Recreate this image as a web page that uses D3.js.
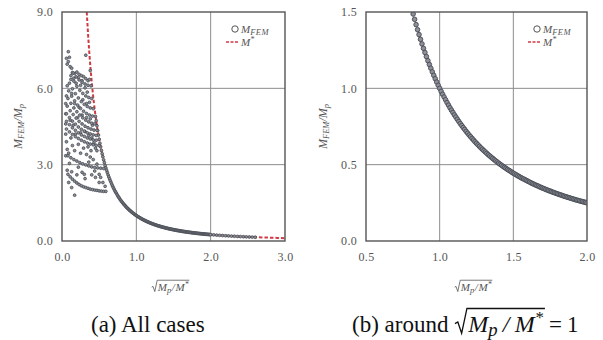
<!DOCTYPE html>
<html>
<head>
<meta charset="utf-8">
<script src="https://cdn.jsdelivr.net/npm/d3@7"></script>
<style>
body { margin: 0; background: #fff; }
svg { display: block; }
svg text { font-family: "Liberation Serif", "DejaVu Serif", "Noto Serif", "Times New Roman", serif; }
.tick text { font-size: 12px; fill: #555; letter-spacing: 0.3px; }
</style>
</head>
<body>
<div id="chart"></div>
<script>
// FEM results, main band (x = sqrt(Mp/M*), y = M_FEM/Mp)
const femBand = [
  [0.46,4.73],[0.47,4.53],[0.48,4.34],[0.49,4.16],[0.50,4.00],[0.51,3.84],[0.52,3.70],[0.53,3.56],[0.54,3.43],[0.55,3.31],
  [0.56,3.19],[0.57,3.08],[0.58,2.97],[0.59,2.87],[0.60,2.78],[0.61,2.69],[0.62,2.60],[0.63,2.52],[0.64,2.44],[0.65,2.37],
  [0.66,2.30],[0.67,2.23],[0.68,2.16],[0.69,2.10],[0.70,2.04],[0.71,1.98],[0.72,1.93],[0.73,1.88],[0.74,1.83],[0.75,1.78],
  [0.76,1.73],[0.77,1.69],[0.78,1.64],[0.79,1.60],
  [0.80,1.563],[0.81,1.524],[0.82,1.487],[0.83,1.452],[0.84,1.417],[0.85,1.384],[0.86,1.352],[0.87,1.321],[0.88,1.291],[0.89,1.262],
  [0.90,1.235],[0.91,1.208],[0.92,1.181],[0.93,1.156],[0.94,1.132],[0.95,1.108],[0.96,1.085],[0.97,1.063],[0.98,1.041],[0.99,1.020],
  [1.00,1.000],[1.01,0.980],[1.02,0.961],[1.03,0.943],[1.04,0.925],[1.05,0.907],[1.06,0.890],[1.07,0.873],[1.08,0.857],[1.09,0.842],
  [1.10,0.826],[1.11,0.812],[1.12,0.797],[1.13,0.783],[1.14,0.769],[1.15,0.756],[1.16,0.743],[1.17,0.731],[1.18,0.718],[1.19,0.706],
  [1.20,0.694],[1.21,0.683],[1.22,0.672],[1.23,0.661],[1.24,0.650],[1.25,0.640],[1.26,0.630],[1.27,0.620],[1.28,0.610],[1.29,0.601],
  [1.30,0.592],[1.31,0.583],[1.32,0.574],[1.33,0.565],[1.34,0.557],[1.35,0.549],[1.36,0.541],[1.37,0.533],[1.38,0.525],[1.39,0.518],
  [1.40,0.510],[1.41,0.503],[1.42,0.496],[1.43,0.489],[1.44,0.482],[1.45,0.476],[1.46,0.469],[1.47,0.463],[1.48,0.457],[1.49,0.450],
  [1.50,0.444],[1.51,0.439],[1.52,0.433],[1.53,0.427],[1.54,0.422],[1.55,0.416],[1.56,0.411],[1.57,0.406],[1.58,0.401],[1.59,0.396],
  [1.60,0.391],[1.61,0.386],[1.62,0.381],[1.63,0.376],[1.64,0.372],[1.65,0.367],[1.66,0.363],[1.67,0.359],[1.68,0.354],[1.69,0.350],
  [1.70,0.346],[1.71,0.342],[1.72,0.338],[1.73,0.334],[1.74,0.330],[1.75,0.327],[1.76,0.323],[1.77,0.319],[1.78,0.316],[1.79,0.312],
  [1.80,0.309],[1.81,0.305],[1.82,0.302],[1.83,0.299],[1.84,0.295],[1.85,0.292],[1.86,0.289],[1.87,0.286],[1.88,0.283],[1.89,0.280],
  [1.90,0.277],[1.91,0.274],[1.92,0.271],[1.93,0.268],[1.94,0.266],[1.95,0.263],[1.96,0.260],[1.97,0.258],[1.98,0.255],[1.99,0.253],
  [2.00,0.250],[2.04,0.240],[2.08,0.231],[2.12,0.222],[2.16,0.214],[2.20,0.207],[2.24,0.199],[2.28,0.192],[2.32,0.186],[2.36,0.180],
  [2.40,0.174],[2.44,0.168],[2.48,0.163],[2.52,0.157],[2.56,0.153],[2.60,0.148]
];

// FEM results, the curved streaks at small sqrt(Mp/M*)
const femArcs = [
  [[0.06,4.40],[0.10,4.29],[0.14,4.19],[0.18,4.10],[0.22,4.03],[0.26,3.96],[0.30,3.90],[0.34,3.85],[0.38,3.81],[0.42,3.78],[0.46,3.76],[0.50,3.75]],
  [[0.06,4.70],[0.10,4.57],[0.14,4.45],[0.18,4.35],[0.22,4.25],[0.26,4.17],[0.30,4.11],[0.34,4.05],[0.38,4.01],[0.42,3.97],[0.46,3.96]],
  [[0.06,5.00],[0.10,4.85],[0.14,4.71],[0.18,4.59],[0.22,4.48],[0.26,4.39],[0.30,4.32],[0.34,4.25],[0.38,4.21],[0.42,4.17],[0.46,4.15]],
  [[0.07,5.30],[0.11,5.12],[0.15,4.97],[0.19,4.83],[0.23,4.70],[0.27,4.60],[0.31,4.51],[0.35,4.45],[0.39,4.40],[0.43,4.36],[0.47,4.35]],
  [[0.08,5.60],[0.12,5.41],[0.16,5.23],[0.20,5.08],[0.24,4.95],[0.28,4.84],[0.32,4.75],[0.36,4.68],[0.40,4.63],[0.44,4.61]],
  [[0.09,5.90],[0.13,5.69],[0.17,5.51],[0.21,5.34],[0.25,5.21],[0.29,5.10],[0.33,5.01],[0.37,4.95],[0.41,4.91],[0.45,4.90]],
  [[0.10,6.20],[0.14,5.98],[0.18,5.79],[0.22,5.62],[0.26,5.48],[0.30,5.37],[0.34,5.29],[0.38,5.23],[0.42,5.20]],
  [[0.12,6.50],[0.16,6.28],[0.20,6.08],[0.24,5.92],[0.28,5.80],[0.32,5.70],[0.36,5.64],[0.40,5.60]],
  [[0.15,6.60],[0.19,6.45],[0.23,6.33],[0.27,6.24],[0.31,6.17],[0.35,6.12],[0.39,6.10]],
  [[0.08,3.35],[0.12,3.27],[0.16,3.20],[0.20,3.14],[0.24,3.08],[0.28,3.03],[0.32,2.99],[0.36,2.95],[0.40,2.91],[0.44,2.89],[0.48,2.87],[0.52,2.86],[0.56,2.85]],
  [[0.08,2.62],[0.11,2.52],[0.14,2.43],[0.17,2.35],[0.20,2.28],[0.23,2.22],[0.26,2.17],[0.29,2.13],[0.32,2.10],[0.35,2.07],[0.38,2.04],[0.41,2.02],
   [0.44,2.00],[0.47,1.99],[0.50,1.97],[0.53,1.96],[0.56,1.95],[0.59,1.95]]
];

// FEM results, loose points in the small sqrt(Mp/M*) cloud
const femScatter = [
  [0.085,7.44],[0.06,7.18],[0.085,7.05],[0.11,6.85],[0.13,6.79],[0.07,6.95],[0.10,7.22],[0.32,7.30],[0.38,6.70],
  [0.14,6.62],[0.17,6.58],[0.20,6.64],[0.23,6.55],[0.26,6.50],[0.29,6.46],[0.32,6.38],[0.35,6.30],[0.16,6.40],[0.22,6.42],
  [0.27,6.30],[0.12,6.35],[0.19,6.20],[0.25,6.12],[0.31,6.02],[0.34,5.85],[0.37,6.35],
  [0.07,6.10],[0.06,5.70],[0.05,5.40],[0.05,5.00],[0.05,4.60],[0.05,4.20],[0.06,3.90],[0.07,3.60],[0.09,3.45],[0.13,5.80],
  [0.17,5.40],[0.23,5.25],[0.28,5.55],[0.33,5.40],[0.37,5.45],[0.11,4.75],[0.15,4.55],[0.21,4.85],[0.27,4.95],[0.33,4.85],
  [0.38,4.80],[0.41,4.55],[0.12,4.05],[0.18,4.20],[0.25,4.25],[0.31,4.30],[0.36,4.15],[0.40,4.05],[0.43,3.85],[0.14,3.75],
  [0.22,3.80],[0.29,3.65],[0.35,3.70],[0.39,3.55],[0.45,3.65],[0.47,3.55],
  [0.05,3.35],[0.10,3.05],[0.07,2.78],[0.13,2.72],[0.13,2.10],[0.17,1.80],[0.20,2.60],[0.22,2.90],[0.27,2.70],[0.30,2.62],
  [0.33,3.40],[0.25,3.45],[0.17,3.55],[0.36,3.10],[0.38,3.30],[0.42,3.20],[0.40,2.60],[0.45,2.50],[0.47,3.02],[0.50,2.30],
  [0.52,2.50],[0.55,2.30],[0.58,2.15],[0.50,2.62],[0.44,2.75],[0.31,2.45],[0.09,2.30]
];

// M*/Mp curve (red dashed)
const mStar = [
  [0.333,9.0],[0.34,8.65],[0.35,8.16],[0.37,7.30],[0.40,6.25],[0.43,5.41],[0.46,4.73],[0.50,4.00],[0.55,3.31],[0.60,2.78],
  [0.65,2.37],[0.70,2.04],[0.75,1.78],[0.80,1.56],[0.85,1.38],[0.90,1.23],[1.00,1.00],[1.10,0.83],[1.20,0.69],[1.30,0.59],
  [1.40,0.51],[1.50,0.44],[1.60,0.39],[1.70,0.35],[1.80,0.31],[1.90,0.28],[2.00,0.25],[2.20,0.21],[2.40,0.17],[2.60,0.15],
  [2.80,0.13],[3.00,0.11]
];

const xTicksA = [0, 1, 2, 3];
const yTicksA = [0, 3, 6, 9];
const xTicksB = [0.5, 1, 1.5, 2];
const yTicksB = [0, 0.5, 1, 1.5];

const femPoints = femBand.concat(femScatter, ...femArcs);

const W = 603, H = 340;
const RED = '#cf3a44';
const GREY = '#555';

const svg = d3.select('#chart').append('svg').attr('width', W).attr('height', H);
const defs = svg.append('defs');

const panels = [
  { id: 'a', left: 62, right: 285, top: 12, bottom: 241, xDomain: [0, 3], yDomain: [0, 9],
    xTicks: xTicksA, yTicks: yTicksA, r: 1.4, sw: 0.8, labelX: 22 },
  { id: 'b', left: 366, right: 587, top: 12, bottom: 241, xDomain: [0.5, 2], yDomain: [0, 1.5],
    xTicks: xTicksB, yTicks: yTicksB, r: 2.3, sw: 0.9, labelX: 327 }
];

// sqrt(Mp/M*) written with a drawn radical sign, returns right end
function sqrtMath(parent, x0, base, fs, color, sw, gap) {
  const t = parent.append('text')
    .attr('x', x0 + fs * 0.55).attr('y', base)
    .attr('font-size', fs).attr('font-style', 'italic').attr('fill', color);
  t.append('tspan').text('M');
  t.append('tspan').attr('font-size', fs * 0.78).attr('dy', fs * 0.15).text('p');
  t.append('tspan').attr('dy', -fs * 0.15).attr('dx', fs * gap).text('/');
  t.append('tspan').attr('dx', fs * gap).text('M');
  t.append('tspan').attr('font-size', fs * 0.7).attr('dy', -fs * 0.38).text('*');
  const bb = t.node().getBBox();
  const end = bb.x + bb.width + fs * 0.05;
  const top = base - fs * 0.98;
  parent.append('path')
    .attr('d', `M${x0},${base - fs * 0.35}L${x0 + fs * 0.12},${base - fs * 0.42}L${x0 + fs * 0.28},${base + fs * 0.05}L${x0 + fs * 0.5},${top}L${end},${top}`)
    .attr('fill', 'none').attr('stroke', color).attr('stroke-width', sw);
  return end;
}

function drawPanel(p) {
  const w = p.right - p.left, h = p.bottom - p.top;
  const x = d3.scaleLinear().domain(p.xDomain).range([0, w]);
  const y = d3.scaleLinear().domain(p.yDomain).range([h, 0]);
  const g = svg.append('g').attr('transform', `translate(${p.left},${p.top})`);

  defs.append('clipPath').attr('id', `clip-${p.id}`)
    .append('rect').attr('width', w).attr('height', h);

  // grid lines
  g.selectAll('.gx').data(p.xTicks.slice(1, -1)).enter().append('line')
    .attr('class', 'gx')
    .attr('x1', d => x(d)).attr('x2', d => x(d)).attr('y1', 0).attr('y2', h)
    .attr('stroke', '#8c8c8c').attr('stroke-width', 1);
  g.selectAll('.gy').data(p.yTicks.slice(1, -1)).enter().append('line')
    .attr('class', 'gy')
    .attr('x1', 0).attr('x2', w).attr('y1', d => y(d)).attr('y2', d => y(d))
    .attr('stroke', '#8c8c8c').attr('stroke-width', 1);

  // axes
  const xAxis = g.append('g').attr('transform', `translate(0,${h})`)
    .call(d3.axisBottom(x).tickValues(p.xTicks).tickFormat(d3.format('.1f')).tickSize(0).tickPadding(11));
  xAxis.select('.domain').remove();
  const yAxis = g.append('g')
    .call(d3.axisLeft(y).tickValues(p.yTicks).tickFormat(d3.format('.1f')).tickSize(0).tickPadding(9));
  yAxis.select('.domain').remove();

  // marks
  const body = g.append('g').attr('clip-path', `url(#clip-${p.id})`);
  body.append('path').datum(mStar)
    .attr('d', d3.line().x(d => x(d[0])).y(d => y(d[1])).curve(d3.curveMonotoneX))
    .attr('fill', 'none').attr('stroke', RED).attr('stroke-width', 2)
    .attr('stroke-dasharray', '3.5,2');

  const pts = femPoints.filter(d => d[0] >= p.xDomain[0] - 0.05 && d[0] <= p.xDomain[1] + 0.05 &&
    d[1] >= p.yDomain[0] - 0.1 && d[1] <= p.yDomain[1] + 0.1);
  body.selectAll('circle').data(pts).enter().append('circle')
    .attr('cx', d => x(d[0])).attr('cy', d => y(d[1])).attr('r', p.r)
    .attr('fill', '#8d9098').attr('stroke', '#464a52').attr('stroke-width', p.sw);

  // frame
  g.append('rect').attr('width', w).attr('height', h)
    .attr('fill', 'none').attr('stroke', GREY).attr('stroke-width', 1.4);

  // legend
  const lg = g.append('g').attr('transform', `translate(${w - 50},0)`);
  lg.append('circle').attr('cx', 0).attr('cy', 17).attr('r', 3.2)
    .attr('fill', 'none').attr('stroke', GREY).attr('stroke-width', 1);
  const t1 = lg.append('text').attr('x', 6).attr('y', 21).attr('font-size', 11)
    .attr('font-style', 'italic').attr('fill', GREY);
  t1.append('tspan').text('M');
  t1.append('tspan').attr('font-size', 8.5).attr('dy', 1.5).attr('letter-spacing', 0.5).text('FEM');
  lg.append('line').attr('x1', -9).attr('x2', 4).attr('y1', 30).attr('y2', 30)
    .attr('stroke', RED).attr('stroke-width', 1.6).attr('stroke-dasharray', '3,1.5');
  const t2 = lg.append('text').attr('x', 6).attr('y', 34).attr('font-size', 11)
    .attr('font-style', 'italic').attr('fill', GREY);
  t2.append('tspan').text('M');
  t2.append('tspan').attr('font-size', 8).attr('dy', -4).text('*');

  // y-axis title
  const yt = svg.append('text')
    .attr('transform', `translate(${p.labelX},${(p.top + p.bottom) / 2}) rotate(-90)`)
    .attr('text-anchor', 'middle').attr('font-size', 12).attr('font-style', 'italic').attr('fill', GREY);
  yt.append('tspan').text('M');
  yt.append('tspan').attr('font-size', 8.5).attr('dy', 2).text('FEM');
  yt.append('tspan').attr('dy', -2).text('/M');
  yt.append('tspan').attr('font-size', 8.5).attr('dy', 2).text('p');

  // x-axis title
  const xt = svg.append('g');
  sqrtMath(xt, 0, 0, 11, GREY, 0.8, 0.06);
  const bb = xt.node().getBBox();
  const cx = (p.left + p.right) / 2 - 3;
  xt.attr('transform', `translate(${cx - (bb.x + bb.width / 2)},291)`);
}

panels.forEach(drawPanel);

// captions
svg.append('text').attr('x', 91).attr('y', 332).attr('font-size', 23).attr('fill', '#111')
  .text('(a) All cases');

const capB = svg.append('g');
const cb = capB.append('text').attr('x', 352).attr('y', 332).attr('font-size', 23).attr('fill', '#111')
  .text('(b) around');
const cbEnd = cb.node().getBBox();
const mathEnd = sqrtMath(capB, cbEnd.x + cbEnd.width + 6, 332, 24, '#111', 1.3, 0.22);
capB.append('text').attr('x', mathEnd + 4).attr('y', 332).attr('font-size', 23).attr('fill', '#111')
  .attr('letter-spacing', 5).text('=1');
</script>
</body>
</html>
